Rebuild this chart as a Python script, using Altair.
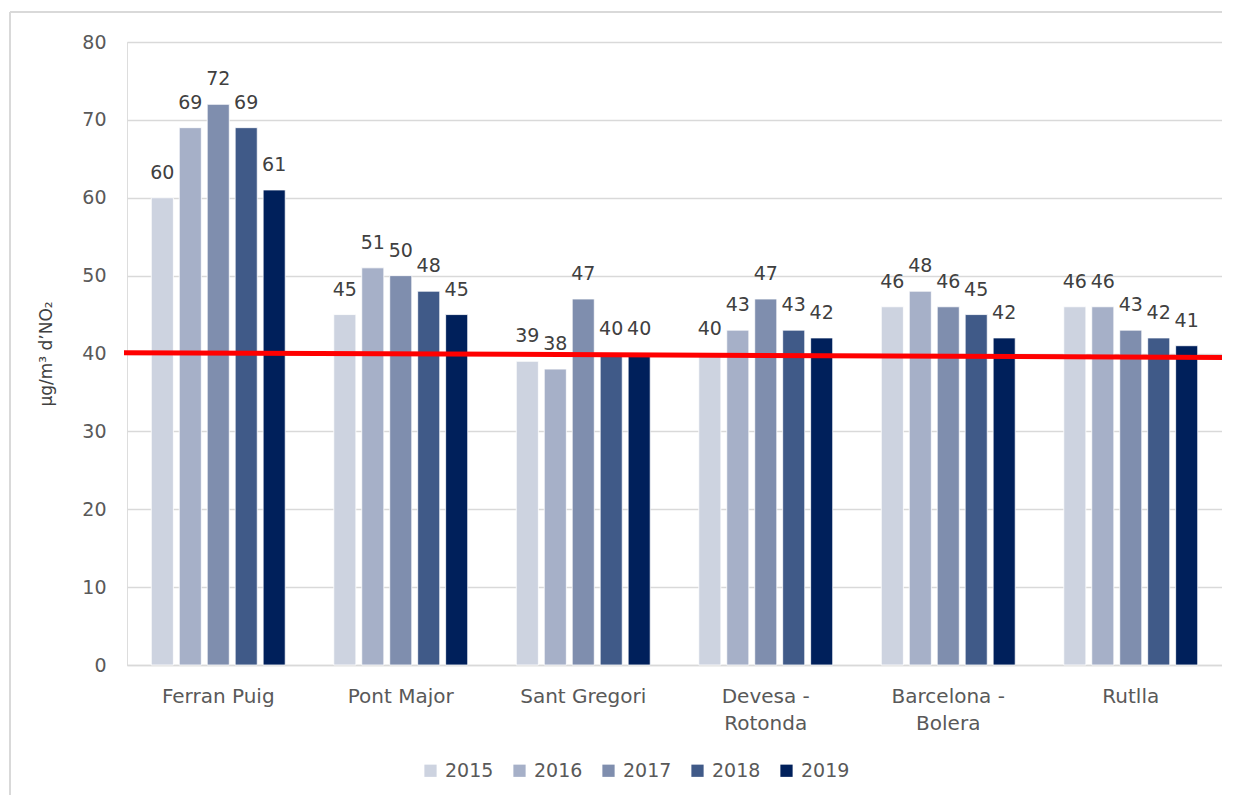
import altair as alt
import pandas as pd

stations = ["Ferran Puig", "Pont Major", "Sant Gregori", "Devesa - Rotonda", "Barcelona - Bolera", "Rutlla"]
years = ["2015", "2016", "2017", "2018", "2019"]
v2015 = [60, 45, 39, 40, 46, 46]
v2016 = [69, 51, 38, 43, 48, 46]
v2017 = [72, 50, 47, 47, 46, 43]
v2018 = [69, 48, 40, 43, 45, 42]
v2019 = [61, 45, 40, 42, 42, 41]
colors = ["#cdd3e0", "#a6b0c8", "#7f8eae", "#405a88", "#00205b"]
limit_start = 40.1
limit_end = 39.5

series = [v2015, v2016, v2017, v2018, v2019]
rows = []
for y, vals in zip(years, series):
    for s, v in zip(stations, vals):
        rows.append({"station": s, "year": y, "value": v})
df = pd.DataFrame(rows)

W, H = 1095, 623
FONT = "DejaVu Sans"

x = alt.X("station:N", sort=stations, title=None,
          scale=alt.Scale(paddingInner=0.266, paddingOuter=0.133),
          axis=alt.Axis(labelAngle=0, labelFontSize=20, labelColor="#595959", labelFont=FONT,
                        labelPadding=21, labelLineHeight=27, ticks=False, domainColor="#d9d9d9",
                        domainWidth=1.5, grid=False,
                        labelExpr="indexof(datum.label, ' - ') > 0 ? [split(datum.label, ' - ')[0] + ' -', split(datum.label, ' - ')[1]] : datum.label"))
y = alt.Y("value:Q", title="µg/m³ d’NO₂", scale=alt.Scale(domain=[0, 80]),
          axis=alt.Axis(values=list(range(0, 81, 10)), labelFontSize=19, labelColor="#595959",
                        labelFont=FONT, labelPadding=21, ticks=False, domain=False,
                        gridColor="#d9d9d9", gridWidth=1.5, titleFontSize=17, titleFont=FONT,
                        titleColor="#404040", titleFontWeight="normal", titlePadding=26))

base = alt.Chart(df).encode(
    x=x,
    xOffset=alt.XOffset("year:N", sort=years, scale=alt.Scale(paddingInner=0.21)),
    y=y,
)

bars = base.mark_bar(stroke="white", strokeWidth=0.8).encode(
    color=alt.Color("year:N", sort=years, scale=alt.Scale(domain=years, range=colors),
                    legend=alt.Legend(title=None, orient="none", direction="horizontal",
                                      legendX=294, legendY=719, symbolType="square",
                                      symbolSize=150, symbolStrokeWidth=0, labelFontSize=19,
                                      labelColor="#595959", labelFont=FONT, columnPadding=16,
                                      labelOffset=5))
)

labels = base.mark_text(dy=-25, fontSize=19, color="#404040", font=FONT).encode(
    text=alt.Text("value:Q")
)

limit_df = pd.DataFrame({"a": [limit_start], "b": [limit_end]})
redline = alt.Chart(limit_df).mark_rule(color="#ff0000", strokeWidth=5).encode(
    x=alt.value(-3), x2=alt.value(W), y=alt.Y("a:Q"), y2="b:Q"
)

border_df = pd.DataFrame({"k": [1]})
left_border = alt.Chart(border_df).mark_rule(color="#d9d9d9", strokeWidth=2).encode(
    x=alt.value(-117), y=alt.value(-30), y2=alt.value(H + 140)
)
top_border = alt.Chart(border_df).mark_rule(color="#d9d9d9", strokeWidth=2).encode(
    x=alt.value(-117), x2=alt.value(W + 40), y=alt.value(-30)
)

chart = alt.layer(bars, labels, redline, left_border, top_border).properties(
    width=W, height=H,
    autosize=alt.AutoSizeParams(type="none"),
    padding={"left": 119, "top": 34, "right": 0, "bottom": 130},
).configure_view(stroke=None).configure(background="white")

chart.save("out.html", embed_options={"renderer": "svg", "actions": False})
